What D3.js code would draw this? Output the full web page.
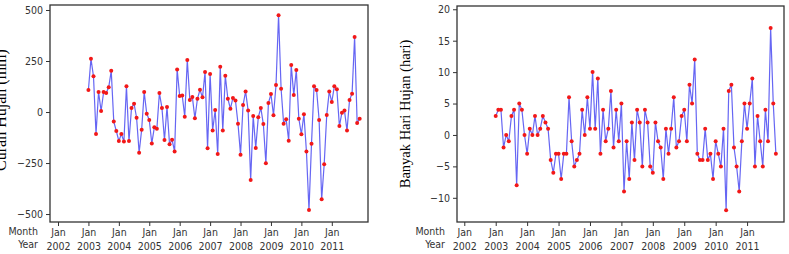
<!doctype html>
<html>
<head>
<meta charset="UTF-8">
<script src="https://d3js.org/d3.v7.min.js"></script>
<style>
  body { margin: 0; background: #fff; }
  svg { display: block; }
  .tick text { font-family: "Liberation Sans Narrow", "DejaVu Sans Condensed", sans-serif; font-size: 10.5px; fill: #333; }
  .tick line { stroke: #333; }
  .lab { font-family: "Liberation Sans Narrow", "DejaVu Sans Condensed", sans-serif; font-size: 10.5px; fill: #333; }
  .title { font-family: "Liberation Serif", "DejaVu Serif", serif; fill: #000; }
</style>
</head>
<body>
<div id="chart"></div>
<script>
// monthly anomalies, Jan 2003 .. Dec 2011
var startYear = 2003;
var tickYears = [2002, 2003, 2004, 2005, 2006, 2007, 2008, 2009, 2010, 2011];

var curahHujan = [
  108, 261, 175, -108, 98, 5, 98, 93, 121, 202, -47, -93,
  -142, -108, -145, 126, -142, 20, 41, -28, -199, -87, 98, -8,
  -39, -154, -75, -82, 93, 20, -137, 25, -158, -136, -194, 209,
  78, 81, -23, 255, 59, 74, -31, 65, 109, 72, 196, -178,
  186, -90, 10, -206, 222, -90, 178, 65, 16, 69, 56, -57,
  -209, 34, 101, 7, -333, -20, -176, -26, 20, -59, -251, 44,
  88, -16, 132, 474, 114, -57, -36, -141, 230, 83, 206, -33,
  -109, -11, -194, -480, -155, 126, 108, -39, -428, -256, -15, 101,
  49, 126, 111, -69, -3, 7, -91, 59, 90, 368, -54, -33
];

var hariHujan = [
  3, 4, 4, -2, 0, -1, 3, 4, -8, 5, 4, 0,
  -3, 1, 0, 3, 0, 1, 3, 2, 1, -4, -6, -3,
  -3, -7, -3, -3, 6, -1, -5, -4, -3, 4, 0, 6,
  1, 10, 1, 9, -3, 4, -1, 1, 7, -2, 4, -1,
  5, -9, -1, -7, 2, -4, 4, 2, -5, 4, 2, -5,
  -6, 2, -1, -2, -7, 1, -3, 1, 6, -2, -1, 3,
  4, -1, 8, 5, 12, -3, -4, -4, 1, -4, -3, -7,
  -1, -3, -5, 1, -12, 7, 8, -2, -5, -9, -1, 5,
  1, 5, 9, -5, 3, -1, -5, 4, -1, 17, 5, -3
];

var W = 789, H = 254;
var svg = d3.select("#chart").append("svg")
  .attr("width", W)
  .attr("height", H);

function panel(values, opt) {
  var x = d3.scaleLinear().domain(opt.xDomain).range([opt.left, opt.right]);
  var y = d3.scaleLinear().domain(opt.yDomain).range([opt.bottom, opt.top]);
  var g = svg.append("g");

  var pts = values.map((v, i) => ({t: startYear + i / 12, v: v}));

  // y axis
  var ya = g.append("g")
    .attr("transform", "translate(" + opt.left + ",0)")
    .call(d3.axisLeft(y).tickValues(opt.yTicks).tickSize(4).tickPadding(3));
  ya.select(".domain").remove();

  // x axis: two lines, Jan / year
  var xa = g.append("g")
    .attr("transform", "translate(0," + opt.bottom + ")")
    .call(d3.axisBottom(x).tickValues(tickYears).tickSize(4).tickPadding(3).tickFormat(() => "Jan"));
  xa.select(".domain").remove();
  xa.selectAll(".tick").append("text")
    .attr("y", 21)
    .attr("dy", "0.71em")
    .attr("fill", "#333")
    .text(d => d);

  // row labels
  g.append("text").attr("class", "lab")
    .attr("x", opt.left - 12).attr("y", opt.bottom + 13)
    .attr("text-anchor", "end").text("Month");
  g.append("text").attr("class", "lab")
    .attr("x", opt.left - 12).attr("y", opt.bottom + 26)
    .attr("text-anchor", "end").text("Year");

  // frame
  g.append("rect")
    .attr("x", opt.left).attr("y", opt.top)
    .attr("width", opt.right - opt.left).attr("height", opt.bottom - opt.top)
    .attr("fill", "none").attr("stroke", "#333").attr("stroke-width", 1.3);

  // line + markers
  g.append("path")
    .datum(pts)
    .attr("fill", "none")
    .attr("stroke", "#4040f0")
    .attr("stroke-opacity", 0.8)
    .attr("stroke-width", 1.2)
    .attr("d", d3.line().x(d => x(d.t)).y(d => y(d.v)));

  g.append("g").selectAll("circle")
    .data(pts)
    .enter()
    .append("circle")
      .attr("cx", d => x(d.t))
      .attr("cy", d => y(d.v))
      .attr("r", 2)
      .attr("fill", "#f21818");

  // y title
  g.append("text").attr("class", "title")
    .attr("font-size", opt.titleSize)
    .attr("text-anchor", "middle")
    .attr("transform", "translate(" + opt.titleX + "," + opt.titleY + ") rotate(-90)")
    .text(opt.title);
}

panel(curahHujan, {
  left: 50, right: 368, top: 5, bottom: 222,
  xDomain: [2001.737, 2012.19],
  yDomain: [-539, 524.5],
  yTicks: [-500, -250, 0, 250, 500],
  title: "Curah Hujan (mm)",
  titleSize: "16px",
  titleX: 6, titleY: 110
});

panel(hariHujan, {
  left: 457, right: 784, top: 6, bottom: 222,
  xDomain: [2001.768, 2012.175],
  yDomain: [-13.85, 20.52],
  yTicks: [-10, -5, 0, 5, 10, 15, 20],
  title: "Banyak Hari Hujan (hari)",
  titleSize: "14.5px",
  titleX: 410, titleY: 114
});
</script>
</body>
</html>
